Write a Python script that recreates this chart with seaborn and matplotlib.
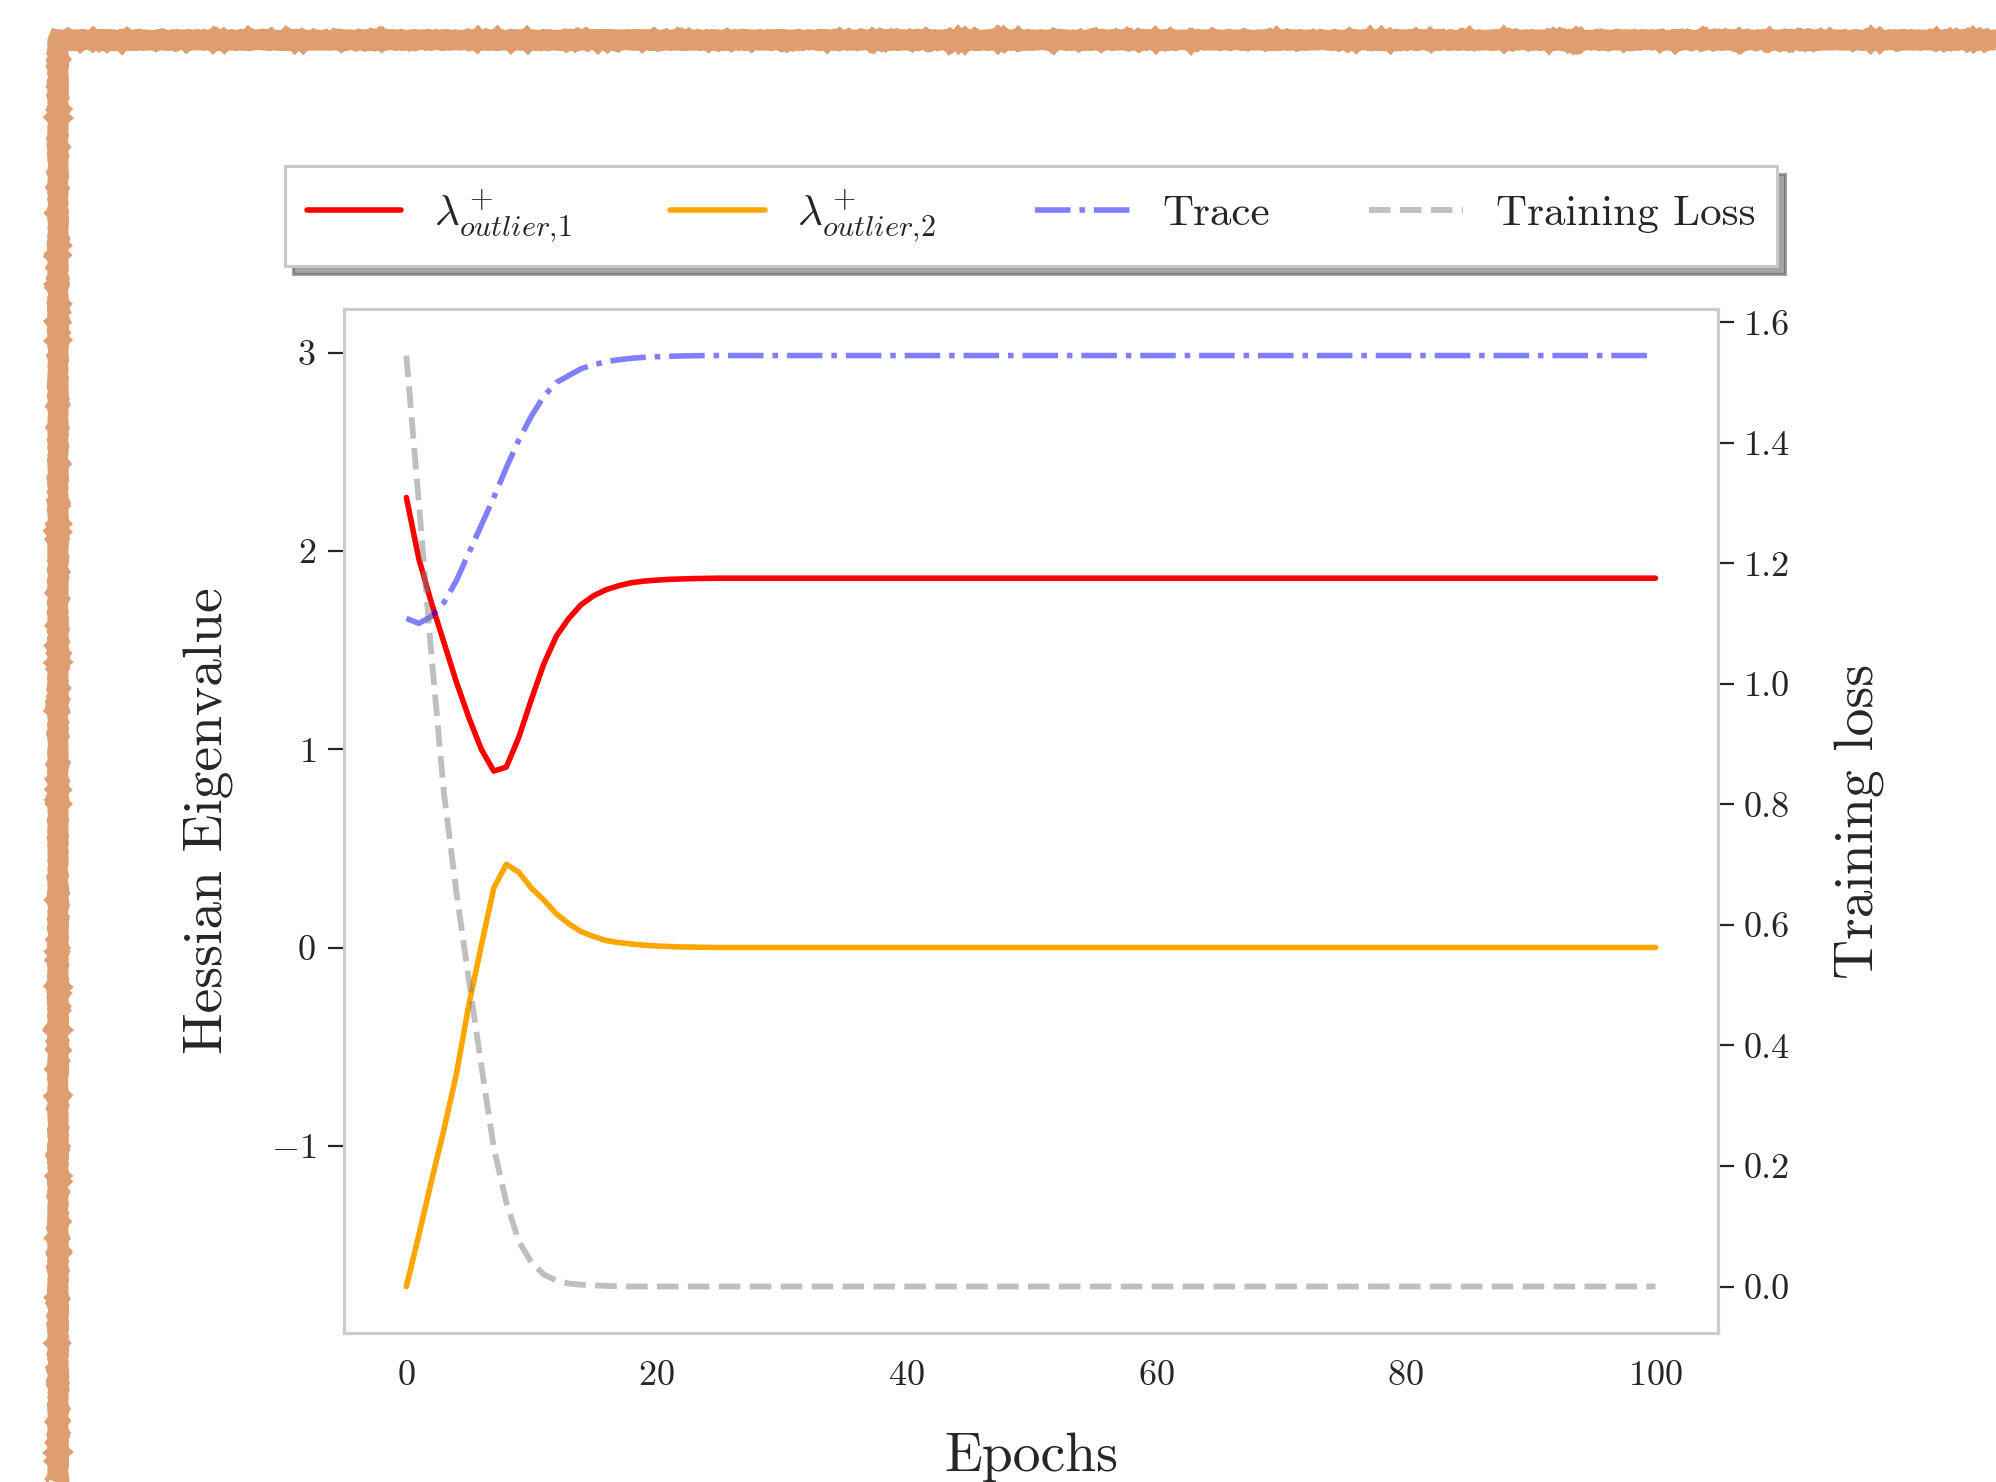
import numpy as np
import pandas as pd
import matplotlib
matplotlib.use('Agg')
import matplotlib.pyplot as plt
from matplotlib.patches import Rectangle
import seaborn as sns

# values (epochs 0..100)
epochs = list(range(101))

lam1 = [2.27, 1.96, 1.74, 1.54, 1.34, 1.16, 1.00, 0.89, 0.91, 1.06,
        1.25, 1.43, 1.57, 1.66, 1.73, 1.775, 1.805, 1.825, 1.84, 1.848,
        1.853, 1.857, 1.859, 1.861, 1.862, 1.863] + [1.863] * 75

lam2 = [-1.71, -1.45, -1.18, -0.92, -0.64, -0.29, 0.01, 0.30, 0.42, 0.38,
        0.30, 0.24, 0.17, 0.12, 0.08, 0.055, 0.035, 0.025, 0.018, 0.012,
        0.008, 0.005, 0.003, 0.002, 0.001, 0.0] + [0.0] * 75

trace = [1.66, 1.635, 1.67, 1.74, 1.85, 1.99, 2.13, 2.27, 2.42, 2.56,
         2.68, 2.78, 2.85, 2.885, 2.92, 2.94, 2.955, 2.965, 2.972, 2.977,
         2.98, 2.982, 2.984, 2.985, 2.986, 2.986] + [2.986] * 75

loss = [1.545, 1.30, 1.05, 0.82, 0.655, 0.51, 0.367, 0.23, 0.14, 0.075,
        0.04, 0.02, 0.01, 0.005, 0.003, 0.002, 0.001, 0.0005, 0.0, 0.0,
        0.0] + [0.0] * 80

labels = [r'$\lambda^+_{outlier{,}1}$', r'$\lambda^+_{outlier{,}2}$', 'Trace', 'Training Loss']

df = pd.DataFrame({'epoch': epochs, 'lam1': lam1, 'lam2': lam2, 'trace': trace, 'loss': loss})

sns.set_theme(style='whitegrid')
plt.rcParams['font.family'] = 'serif'
plt.rcParams['font.serif'] = ['cmr10', 'DejaVu Serif']
plt.rcParams['mathtext.fontset'] = 'cm'
plt.rcParams['axes.formatter.use_mathtext'] = True
plt.rcParams['axes.unicode_minus'] = True

fig = plt.figure(figsize=(9.98, 7.41), dpi=200)
ax = fig.add_axes([0.1723, 0.1005, 0.6884, 0.691])
ax2 = ax.twinx()

sns.lineplot(data=df, x='epoch', y='lam1', ax=ax, color='red', lw=2.0, label=labels[0], legend=False)
sns.lineplot(data=df, x='epoch', y='lam2', ax=ax, color='orange', lw=2.0, label=labels[1], legend=False)
sns.lineplot(data=df, x='epoch', y='trace', ax=ax, color='blue', alpha=0.5, lw=2.0,
             linestyle='-.', label=labels[2], legend=False)
sns.lineplot(data=df, x='epoch', y='loss', ax=ax2, color='gray', alpha=0.5, lw=2.1,
             linestyle='--', label=labels[3], legend=False)

for a in (ax, ax2):
    a.grid(False)
    for s in a.spines.values():
        s.set_color('#cccccc')
        s.set_linewidth(1.1)

ax.set_xticks([0, 20, 40, 60, 80, 100])
ax.set_yticks([-1, 0, 1, 2, 3])
ax2.set_yticks([0.0, 0.2, 0.4, 0.6, 0.8, 1.0, 1.2, 1.4, 1.6])
ax2.set_yticklabels(['0.0', '0.2', '0.4', '0.6', '0.8', '1.0', '1.2', '1.4', '1.6'])
ax.tick_params(axis='x', length=0, pad=10, labelsize=13, colors='#262626')
ax.tick_params(axis='y', length=5.8, width=0.8, pad=4.3, labelsize=13, colors='#262626')
ax2.tick_params(axis='y', length=5.8, width=0.8, pad=3.6, labelsize=13, colors='#262626')

ax.set_xlabel('Epochs', fontsize=20, color='#262626')
ax.set_ylabel('Hessian Eigenvalue', fontsize=20, color='#262626')
ax2.set_ylabel('Training loss', fontsize=20, color='#262626')
ax.xaxis.set_label_coords(0.5, -0.097)
ax.yaxis.set_label_coords(-0.08, 0.5)
ax2.yaxis.set_label_coords(1.085, 0.5)

h1, l1 = ax.get_legend_handles_labels()
h2, l2 = ax2.get_legend_handles_labels()
leg = ax2.legend(h1 + h2, l1 + l2, loc='lower center', bbox_to_anchor=(0.5, 1.021), ncol=4,
                 fontsize=15.5, frameon=True, fancybox=False, shadow={'ox': 3, 'oy': -3},
                 handlelength=2.2, handletextpad=0.75, columnspacing=2.3, borderpad=0.5)
leg.get_frame().set_edgecolor('#c8c8c8')
leg.get_frame().set_linewidth(1.1)
leg.get_frame().set_alpha(1)
for t in leg.get_texts():
    t.set_color('#262626')

# rough orange page border, partly off the picture
border = Rectangle((0.029, -0.05), 0.977, 1.023, transform=fig.transFigure, fill=False,
                   edgecolor='#de9e70', lw=7.2, clip_on=False)
border.set_sketch_params(scale=0.6, length=6, randomness=4)
fig.patches.append(border)

fig.savefig('out.png', dpi=200)
